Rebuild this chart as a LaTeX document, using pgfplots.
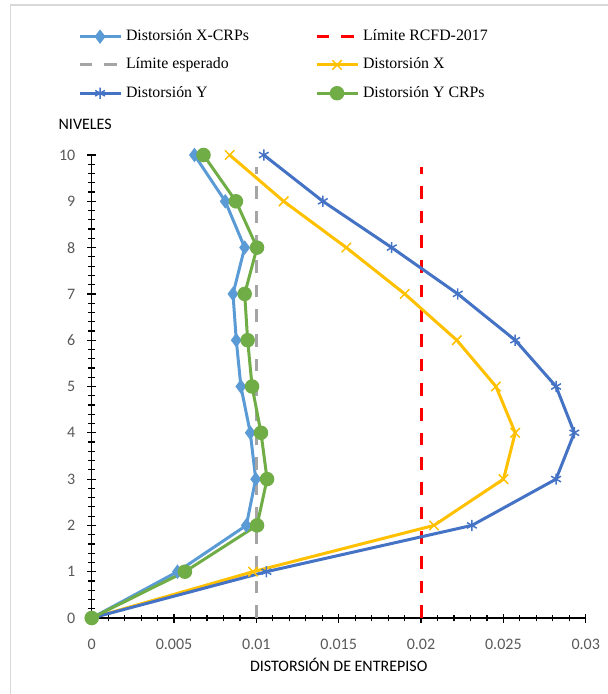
\documentclass[border=0pt]{standalone}
\usepackage{fontspec}
\setmainfont{Liberation Serif}
\newfontfamily\calibri{Carlito}
\usepackage{pgfplots}
\pgfplotsset{compat=1.18}
\definecolor{cLB}{HTML}{5B9BD5}
\definecolor{cYe}{HTML}{FFC000}
\definecolor{cBl}{HTML}{4472C4}
\definecolor{cGr}{HTML}{70AD47}
\definecolor{cGy}{HTML}{A5A5A5}
\definecolor{cRd}{HTML}{FF0000}
\definecolor{frame}{HTML}{D9D9D9}
\definecolor{tickgray}{HTML}{595959}
\begin{document}
\begin{tikzpicture}
\useasboundingbox (0,0) rectangle (456pt,520.5pt);
\begin{scope}
\clip (0,0) rectangle (456pt,520.5pt);
\draw[color=frame, line width=1.2pt] (7.9pt,-10pt) rectangle (470pt,516.75pt);
\end{scope}
\begin{axis}[
  at={(68.78pt,57pt)}, anchor=south west,
  scale only axis, width=370.5pt, height=347.25pt,
  xmin=0, xmax=0.03, ymin=0, ymax=10,
  clip=false,
  axis lines=left, axis line style={-, line width=1.1pt, black},
  xtick={0,0.005,0.01,0.015,0.02,0.025,0.03},
  xticklabels={0,0.005,0.01,0.015,0.02,0.025,0.03},
  scaled x ticks=false,
  ytick={0,1,2,3,4,5,6,7,8,9,10},
  minor x tick num=4, minor y tick num=4,
  tick align=center,
  major tick length=6.75pt, minor tick length=5pt,
  tick style={black, line width=0.9pt},
  /pgf/number format/assume math mode=true,
  tick label style={font=\calibri\fontsize{12}{14}\selectfont, text=tickgray},
  yticklabel style={xshift=-5.4pt},
  xticklabel style={yshift=-8.75pt},
  xlabel={DISTORSIÓN DE ENTREPISO},
  ylabel={NIVELES},
  every axis x label/.style={at={(axis description cs:0.5,0)}, anchor=base, yshift=-39.75pt, font=\calibri\fontsize{12}{14}\selectfont},
  every axis y label/.style={at={(axis description cs:0,1)}, anchor=base west, inner sep=0pt, xshift=-25pt, yshift=19.5pt, font=\calibri\fontsize{12}{14}\selectfont},
  legend columns=2,
  legend image code/.code={\draw[#1, mark repeat=2, mark phase=2] plot coordinates {(0pt,0pt) (15.4pt,0pt) (30.75pt,0pt)};},
  legend cell align=left,
  legend style={draw=none, fill=none, inner sep=0pt, outer sep=0pt,
    at={(axis description cs:-0.0277,1.2728)}, anchor=north west,
    font=\fontsize{11.9}{14}\selectfont,
    nodes={inner sep=0pt, text height=9pt, text depth=3pt, anchor=west},
    /tikz/column 1/.style={column sep=3pt},
    /tikz/column 2/.style={column sep=49.5pt},
    /tikz/column 3/.style={column sep=3pt},
    row sep=9.2pt},
]
\addplot[cLB, line width=2.25pt, mark=diamond*, mark size=3.6pt, mark options={solid, fill=cLB}] coordinates {
 (0,0) (0.00521,1) (0.00939,2) (0.00996,3) (0.00963,4) (0.00906,5) (0.00878,6) (0.00858,7) (0.00929,8) (0.00811,9) (0.00624,10)};
\addlegendentry{Distorsión X-CRPs}
\addplot[cRd, line width=2.25pt, dash pattern=on 9.5pt off 9pt] coordinates {(0.02,0) (0.02,9.75)};
\addlegendentry{Límite RCFD-2017}
\addplot[cGy, line width=2.25pt, dash pattern=on 9.5pt off 9pt] coordinates {(0.01,0) (0.01,9.75)};
\addlegendentry{Límite esperado}
\addplot[cYe, line width=2.25pt, mark=x, mark size=5pt, mark options={solid, line width=1.1pt}] coordinates {
 (0,0) (0.0098,1) (0.02079,2) (0.02501,3) (0.02572,4) (0.02455,5) (0.02217,6) (0.01901,7) (0.01546,8) (0.01166,9) (0.00838,10)};
\addlegendentry{Distorsión X}
\addplot[cBl, line width=2.25pt, mark=asterisk, mark size=4.2pt, mark options={solid, line width=1.1pt}] coordinates {
 (0,0) (0.01061,1) (0.02309,2) (0.0282,3) (0.02931,4) (0.0282,5) (0.02572,6) (0.02223,7) (0.01822,8) (0.01404,9) (0.01045,10)};
\addlegendentry{Distorsión Y}
\addplot[cGr, line width=2.25pt, mark=*, mark size=4.3pt, mark options={solid, fill=cGr}] coordinates {
 (0,0) (0.00566,1) (0.01004,2) (0.01065,3) (0.01028,4) (0.00974,5) (0.00947,6) (0.00929,7) (0.01004,8) (0.00876,9) (0.00679,10)};
\addlegendentry{Distorsión Y CRPs}
\end{axis}
\end{tikzpicture}
\end{document}
